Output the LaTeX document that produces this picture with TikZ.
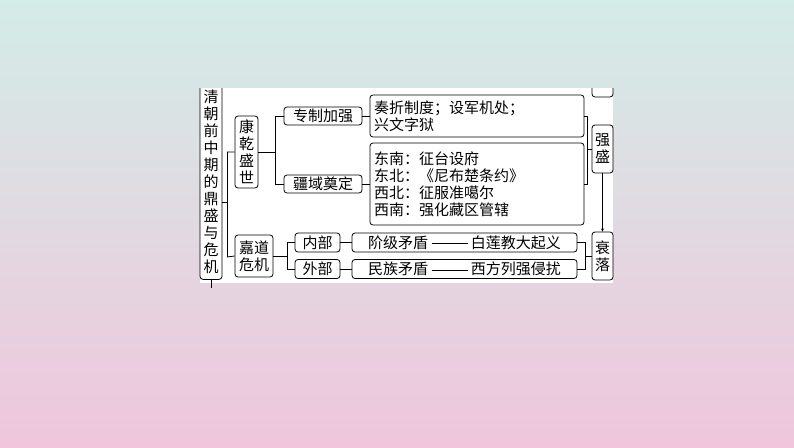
\documentclass[tikz,border=0pt]{standalone}
\usepackage{fontspec}
\setmainfont{Noto Sans CJK SC}
\usetikzlibrary{positioning}
\definecolor{topc}{HTML}{D3ECE7}
\definecolor{botc}{HTML}{EFC6DC}
\begin{document}
\begin{tikzpicture}[x=1pt,y=-1pt,
  box/.style={draw,thick,rounded corners=3pt,inner sep=1pt,font=\fontsize{15}{17}\selectfont},
  ln/.style={thick}]
\shade[top color=topc,bottom color=botc] (0,0) rectangle (794,447);
\useasboundingbox (0,0) rectangle (794,447);
\fill[white] (200,88) rectangle (613,283);
% title
\begin{scope}
\clip (190,88) rectangle (240,300);
\node[box,minimum width=22pt,minimum height=195pt,anchor=north,inner sep=0pt,align=center] (title) at (211,84)
  {\fontsize{15}{16.8}\selectfont 清\\朝\\前\\中\\期\\的\\鼎\\盛\\与\\危\\机};
\end{scope}
\draw[ln] (title.south) -- ++(0,8);
% level 1
\node[box,minimum width=23pt,minimum height=72pt,align=center] (kq) at (246.5,152) {\fontsize{15}{17.5}\selectfont 康\\乾\\盛\\世};
\node[box,minimum width=38pt,minimum height=42pt,align=center] (jd) at (254,256) {\fontsize{15}{18}\selectfont 嘉道\\危机};
\draw[ln] (title.east|-0,202) -- (227,202) (227,152) -- (227,257);
\draw[ln] (227,152) -- (kq.west) (227,257) -- (jd.west);
% kangqian
\node[box,minimum width=78pt,minimum height=18pt] (zz) at (323,116) {专制加强};
\node[box,minimum width=78pt,minimum height=18pt] (jy) at (323,184) {疆域奠定};
\draw[ln] (kq.east) -- (275,152) (275,116) -- (275,184);
\draw[ln] (275,116) -- (zz.west) (275,184) -- (jy.west);
\node[box,minimum width=214pt,minimum height=42pt,align=left,text width=206pt] (zzd) at (477,116)
  {奏折制度；设军机处；\\兴文字狱};
\node[box,minimum width=214pt,minimum height=82pt,align=left,text width=206pt] (jyd) at (477,184)
  {东南：征台设府\\东北：《尼布楚条约》\\西北：征服准噶尔\\西南：强化藏区管辖};
\draw[ln] (zz.east) -- (zzd.west) (jy.east) -- (jyd.west);
% jiadao
\node[box,minimum width=45pt,minimum height=19pt] (nb) at (317.5,242.5) {内部};
\node[box,minimum width=45pt,minimum height=19pt] (wb) at (317.5,269) {外部};
\draw[ln] (jd.east) -- (287,256) (287,242.5) -- (287,269);
\draw[ln] (287,242.5) -- (nb.west) (287,269) -- (wb.west);
\node[box,minimum width=225pt,minimum height=19pt] (nbd) at (464.5,242.5) {阶级矛盾 \rule[0.3em]{36pt}{0.6pt} 白莲教大起义};
\node[box,minimum width=225pt,minimum height=19pt] (wbd) at (464.5,269) {民族矛盾 \rule[0.3em]{36pt}{0.6pt} 西方列强侵扰};
\draw[ln] (nb.east) -- (nbd.west) (wb.east) -- (wbd.west);
% right column
\begin{scope}
\clip (560,88) rectangle (620,300);
\node[box,minimum width=21pt,minimum height=20pt] (top) at (602.5,87) {};
\end{scope}
\node[box,minimum width=21pt,minimum height=48pt,align=center] (qs) at (602.5,149) {\fontsize{15}{18}\selectfont 强\\盛};
\node[box,minimum width=21pt,minimum height=48pt,align=center] (sl) at (602.5,256) {\fontsize{15}{18}\selectfont 衰\\落};
\draw[ln] (zzd.east) -- (587,116) -- (587,184) -- (jyd.east);
\draw[ln] (587,149) -- (qs.west);
\draw[ln] (nbd.east) -- (585,242.5) -- (585,269) -- (wbd.east);
\draw[ln] (585,256) -- (sl.west);
\draw[-stealth] (qs.south) -- (sl.north);
\end{tikzpicture}
\end{document}
